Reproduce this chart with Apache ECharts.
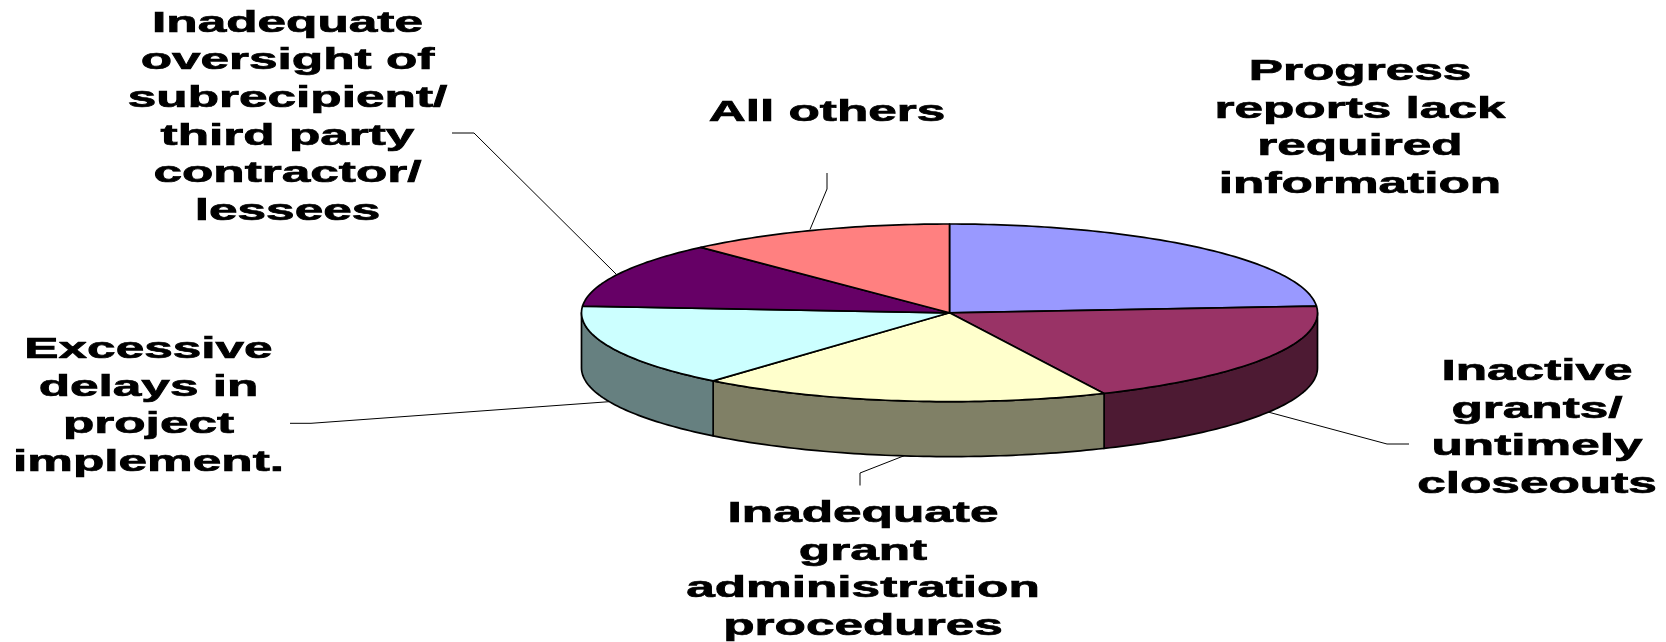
<!DOCTYPE html>
<html>
<head>
<meta charset="utf-8">
<style>html,body{margin:0;padding:0;background:#fff}#c{width:1666px;height:642px}</style>
<script src="https://cdn.jsdelivr.net/npm/echarts@6/dist/echarts.min.js"></script>
</head>
<body>
<div id="c"></div>
<script>
// Data
const categories = [
  "Progress\nreports lack\nrequired\ninformation",
  "Inactive\ngrants/\nuntimely\ncloseouts",
  "Inadequate\ngrant\nadministration\nprocedures",
  "Excessive\ndelays in\nproject\nimplement.",
  "Inadequate\noversight of\nsubrecipient/\nthird party\ncontractor/\nlessees",
  "All others"
];
const values = [23.8, 19.3, 18.0, 15.1, 12.0, 11.8];

// Styles
const topColors = ["#9999FF", "#993366", "#FFFFCC", "#CCFFFF", "#660066", "#FF8080"];
const sideColors = ["#4C4C80", "#4D1A33", "#808066", "#668080", "#330033", "#804040"];

// Layout
const pie = { cx: 949.5, cy: 312.8, rx: 368, ry: 88.8, depth: 55 };
const labelCenters = [[1360, 72], [1537, 372], [863, 514], [148.5, 350], [287.5, 23.5], [827, 112.5]];
const leaders = [
  null,
  [[1409, 444], [1387, 444], [1268, 412]],
  [[860, 485.5], [860, 473], [906, 455]],
  [[290, 423.3], [311, 423.3], [609, 401.7]],
  [[452, 133], [474, 133], [616, 274]],
  [[827, 173], [827, 189], [810, 229.5]]
];
const lineStep = 37.7, fontSize = 29, textStretch = 1.77;

const total = values.reduce((a, b) => a + b, 0);
const starts = values.reduce((acc, v, i) => { acc.push(i ? acc[i - 1] + values[i - 1] : 0); return acc; }, []);
const toDeg = v => v / total * 360;
const pointAt = (deg, dy) => {
  const t = deg * Math.PI / 180;
  return [pie.cx + pie.rx * Math.sin(t), pie.cy - pie.ry * Math.cos(t) + (dy || 0)];
};
const arc = (a, b, dy) => {
  const pts = [], n = Math.max(2, Math.ceil((b - a) / 1));
  for (let k = 0; k <= n; k++) pts.push(pointAt(a + (b - a) * k / n, dy));
  return pts;
};

function renderItem(params, api) {
  const i = api.value(0);
  const a = toDeg(starts[i]);
  const b = a + toDeg(api.value(1));
  const children = [];

  // side wall (front half only)
  const sa = Math.max(a, 90), sb = Math.min(b, 270);
  if (sb > sa) {
    children.push({
      type: 'polygon', z2: 1,
      shape: { points: arc(sa, sb, 0).concat(arc(sa, sb, pie.depth).reverse()) },
      style: { fill: sideColors[i], stroke: '#000', lineWidth: 1.7, lineJoin: 'round' }
    });
  }
  // top face
  children.push({
    type: 'polygon', z2: 2,
    shape: { points: [[pie.cx, pie.cy]].concat(arc(a, b, 0)) },
    style: { fill: topColors[i], stroke: '#000', lineWidth: 1.7, lineJoin: 'round' }
  });
  // leader line
  if (leaders[i]) {
    children.push({
      type: 'polyline', z2: 0,
      shape: { points: leaders[i] },
      style: { fill: 'none', stroke: '#000', lineWidth: 1 }
    });
  }
  // label text, horizontally stretched like the source
  categories[i].split('\n').forEach((line, k) => {
    children.push({
      type: 'text', z2: 3,
      x: labelCenters[i][0],
      y: labelCenters[i][1] + k * lineStep,
      scaleX: textStretch,
      style: {
        text: line,
        fill: '#000',
        stroke: '#000',
        lineWidth: 0.7,
        font: 'bold ' + fontSize + 'px "Liberation Sans", Arial, sans-serif',
        textAlign: 'center',
        textVerticalAlign: 'middle'
      }
    });
  });
  return { type: 'group', children };
}

const chart = echarts.init(document.getElementById('c'), null, { renderer: 'canvas' });
chart.setOption({
  animation: false,
  backgroundColor: '#fff',
  series: [{
    type: 'custom',
    coordinateSystem: 'none',
    silent: true,
    clip: false,
    renderItem,
    data: values.map((v, i) => [i, v])
  }]
});
</script>
</body>
</html>
